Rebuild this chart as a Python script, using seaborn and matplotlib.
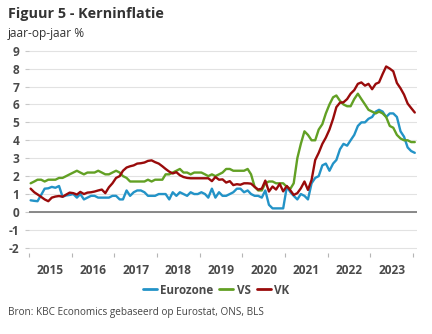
import numpy as np
import pandas as pd
import matplotlib
matplotlib.use("Agg")
import matplotlib.pyplot as plt
import seaborn as sns

# Kerninflatie, jaar-op-jaar %, maandelijks jan 2015 - jan 2024
eurozone = [
    0.65, 0.62, 0.60, 0.95, 1.30, 1.32, 1.40, 1.35, 1.45, 0.85, 0.92, 0.95,   # 2015
    1.00, 0.80, 1.00, 0.70, 0.80, 0.90, 0.90, 0.80, 0.80, 0.80, 0.80, 0.90,   # 2016
    0.90, 0.70, 0.70, 1.20, 0.90, 1.10, 1.20, 1.20, 1.10, 0.90, 0.90, 0.90,   # 2017
    1.00, 1.00, 1.00, 0.70, 1.10, 0.90, 1.10, 1.00, 0.90, 1.10, 1.00, 1.00,   # 2018
    1.10, 1.00, 0.80, 1.30, 0.80, 1.10, 0.90, 0.90, 1.00, 1.10, 1.30, 1.30,   # 2019
    1.10, 1.20, 1.00, 0.90, 0.90, 0.80, 1.20, 0.40, 0.20, 0.20, 0.20, 0.20,   # 2020
    1.40, 1.10, 0.90, 0.70, 1.00, 0.90, 0.70, 1.60, 1.90, 2.00, 2.60, 2.70,   # 2021
    2.30, 2.70, 2.90, 3.50, 3.80, 3.70, 4.00, 4.30, 4.80, 5.00, 5.00, 5.20,   # 2022
    5.30, 5.60, 5.70, 5.60, 5.30, 5.50, 5.50, 5.30, 4.50, 4.20, 3.60, 3.40,   # 2023
    3.30,                                                                     # 2024
]
vs = [
    1.6, 1.7, 1.8, 1.8, 1.7, 1.8, 1.8, 1.8, 1.9, 1.9, 2.0, 2.1,
    2.2, 2.3, 2.2, 2.1, 2.2, 2.2, 2.2, 2.3, 2.2, 2.1, 2.1, 2.2,
    2.3, 2.2, 2.0, 1.9, 1.7, 1.7, 1.7, 1.7, 1.7, 1.8, 1.7, 1.8,
    1.8, 1.8, 2.1, 2.1, 2.2, 2.3, 2.4, 2.2, 2.2, 2.1, 2.2, 2.2,
    2.2, 2.1, 2.0, 2.1, 2.0, 2.1, 2.2, 2.4, 2.4, 2.3, 2.3, 2.3,
    2.3, 2.4, 2.1, 1.4, 1.2, 1.2, 1.6, 1.7, 1.7, 1.6, 1.6, 1.6,
    1.4, 1.3, 1.6, 3.0, 3.8, 4.5, 4.3, 4.0, 4.0, 4.6, 4.9, 5.5,
    6.0, 6.4, 6.5, 6.2, 6.0, 5.9, 5.9, 6.3, 6.6, 6.3, 6.0, 5.7,
    5.6, 5.5, 5.6, 5.5, 5.3, 4.8, 4.7, 4.3, 4.1, 4.0, 4.0, 3.9,
    3.9,
]
vk = [
    1.30, 1.10, 0.98, 0.84, 0.70, 0.60, 0.80, 0.86, 0.89, 0.85, 0.97, 1.08,
    1.05, 0.97, 1.12, 1.00, 1.08, 1.10, 1.14, 1.20, 1.25, 1.05, 1.38, 1.60,
    1.90, 2.00, 2.30, 2.48, 2.55, 2.60, 2.70, 2.72, 2.76, 2.85, 2.88, 2.78,
    2.70, 2.55, 2.40, 2.25, 2.15, 2.22, 2.05, 1.95, 1.90, 1.88, 1.88, 1.88,
    1.88, 1.88, 1.88, 1.72, 1.95, 1.80, 1.82, 1.64, 1.72, 1.50, 1.55, 1.52,
    1.60, 1.60, 1.58, 1.40, 1.25, 1.30, 1.75, 1.14, 1.42, 1.25, 1.57, 1.15,
    1.45, 1.20, 0.95, 1.05, 1.32, 1.70, 1.23, 1.79, 2.90, 3.30, 3.80, 4.15,
    4.60, 5.20, 5.85, 6.10, 6.12, 6.30, 6.60, 6.80, 7.15, 7.23, 7.05, 7.15,
    6.85, 7.15, 7.23, 7.70, 8.12, 8.00, 7.85, 7.20, 6.90, 6.55, 6.05, 5.80,
    5.55,
]
series_names = ["Eurozone", "VS", "VK"]
series_colors = ["#2393c7", "#62a024", "#990b0b"]
years = list(range(2015, 2024))
y_ticks = list(range(-2, 10))

months = pd.date_range("2015-01-01", periods=len(eurozone), freq="MS") + pd.Timedelta(days=14)
df = pd.DataFrame({
    "datum": np.tile(months, 3),
    "reeks": np.repeat(series_names, len(months)),
    "waarde": eurozone + vs + vk,
})

sns.set_theme(style="white")
plt.rcParams["font.family"] = ["Open Sans", "DejaVu Sans"]

fig = plt.figure(figsize=(4.32, 3.34), dpi=100)
ax = fig.add_axes([29 / 432, 1 - 253 / 334, 388 / 432, (253 - 48.9) / 334])

ax.grid(axis="y", color="#e2e2e2", linewidth=0.8, zorder=0)
ax.axhline(0, color="#808080", linewidth=1.3, zorder=1)

sns.lineplot(data=df, x="datum", y="waarde", hue="reeks",
             palette=dict(zip(series_names, series_colors)),
             linewidth=1.7, ax=ax, zorder=3)

handles, labels = ax.get_legend_handles_labels()
ax.get_legend().remove()

ax.set_xlim(pd.Timestamp("2015-01-01"), pd.Timestamp("2024-02-03"))
ax.set_ylim(-2.29, 9.1)
ax.set_xlabel("")
ax.set_ylabel("")

# year boundaries as small tick marks, year labels centred in between
ax.set_xticks([pd.Timestamp(f"{y}-01-01") for y in years + [2024]])
ax.set_xticklabels([])
ax.set_xticks([pd.Timestamp(f"{y}-07-02") for y in years], minor=True)
ax.set_xticklabels([str(y) for y in years], minor=True)
ax.tick_params(axis="x", which="major", length=3, width=0.8, color="#b5b5b5",
               bottom=True, direction="out")
ax.tick_params(axis="x", which="minor", length=0, pad=8, labelsize=8.6,
               labelcolor="#4a4a4a")
for lbl in ax.get_xticklabels(minor=True):
    lbl.set_fontweight("bold")

ax.set_yticks(y_ticks)
ax.set_yticklabels([str(v) for v in y_ticks])
ax.tick_params(axis="y", length=3, width=0.8, color="#c8c8c8", left=True,
               direction="out", pad=4, labelsize=8.6, labelcolor="#4a4a4a")
for lbl in ax.get_yticklabels():
    lbl.set_fontweight("bold")

for s in ax.spines.values():
    s.set_visible(False)

leg = fig.legend(handles, labels, loc="center", bbox_to_anchor=(0.5, 1 - 290 / 334),
                 ncol=3, frameon=False, handlelength=1.2, handletextpad=0.3,
                 columnspacing=0.5, prop={"size": 8.4, "weight": "bold"})
for t in leg.get_texts():
    t.set_color("#4a4a4a")
for h in leg.get_lines():
    h.set_linewidth(2.0)

fig.text(8 / 432, 1 - 14 / 334, "Figuur 5 - Kerninflatie", fontsize=10.4,
         fontweight="bold", color="#333333", va="center", ha="left")
fig.text(8 / 432, 1 - 33 / 334, "jaar-op-jaar %", fontsize=8.6,
         color="#333333", va="center", ha="left")
fig.text(8 / 432, 1 - 313 / 334, "Bron: KBC Economics gebaseerd op Eurostat, ONS, BLS",
         fontsize=7.2, color="#444444", va="center", ha="left")

fig.savefig("out.png", dpi=100)
